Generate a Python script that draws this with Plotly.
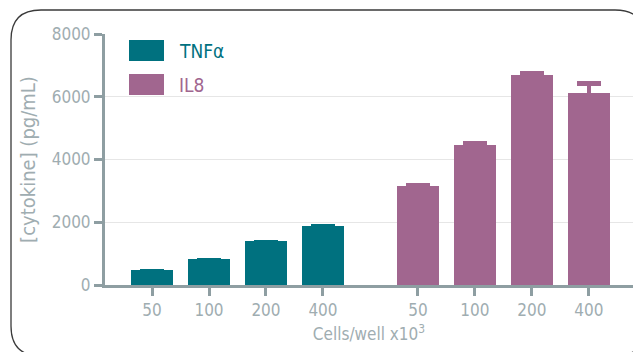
import plotly.graph_objects as go

# Cytokine secretion by cell density
cell_counts = ["50", "100", "200", "400"]
tnfa_values = [470, 830, 1400, 1890]
tnfa_errors = [5, 10, 10, 10]
il8_values = [3165, 4450, 6690, 6130]
il8_errors = [0, 65, 75, 290]
y_ticks = [0, 2000, 4000, 6000, 8000]

TEAL = "#00717f"
PLUM = "#a1668f"
AXIS = "#8e9ea2"
TEXT = "#9fadb1"
FONT = "DejaVu Sans Condensed, Liberation Sans Narrow, sans-serif"

W, H = 633, 352
ML, MR, MT, MB = 105, 0, 34, 67
PW, PH = W - ML - MR, H - MT - MB

# second group sits after a gap wider than one slot
group_gap = 5 / 3
x_tnfa = list(range(len(cell_counts)))
x_il8 = [x_tnfa[-1] + group_gap + i for i in range(len(cell_counts))]


def px(x):
    return (x - ML) / PW


def py(y):
    return (H - MB - y) / PH


fig = go.Figure()
fig.add_bar(
    x=x_tnfa, y=tnfa_values, name="TNFα", marker_color=TEAL, width=0.75,
    marker_line_width=0,
    error_y=dict(type="data", array=tnfa_errors, color=TEAL, thickness=2, width=12),
)
fig.add_bar(
    x=x_il8, y=il8_values, name="IL8", marker_color=PLUM, width=0.75,
    marker_line_width=0,
    error_y=dict(type="data", array=il8_errors, color=PLUM, thickness=4.5, width=12),
)

# rounded frame around the panel
r = 30
x0, x1, y0, y1 = 11, 645, 10, 356
rx, ry = r / PW, r / PH
path = (
    f"M {px(x0)},{py(y0 + r)} "
    f"Q {px(x0)},{py(y0)} {px(x0) + rx},{py(y0)} "
    f"L {px(x1) - rx},{py(y0)} "
    f"Q {px(x1)},{py(y0)} {px(x1)},{py(y0) - ry} "
    f"L {px(x1)},{py(y1) + ry} "
    f"Q {px(x1)},{py(y1)} {px(x1) - rx},{py(y1)} "
    f"L {px(x0) + rx},{py(y1)} "
    f"Q {px(x0)},{py(y1)} {px(x0)},{py(y1) + ry} Z"
)
shapes = [dict(type="path", xref="paper", yref="paper", path=path,
               line=dict(color="#3a3a3a", width=1.3), layer="above")]

# legend swatches with coloured labels
annotations = []
for (name, color, top) in [("TNFα", TEAL, 40), ("IL8", PLUM, 74)]:
    shapes.append(dict(type="rect", xref="paper", yref="paper",
                       x0=px(129), x1=px(164), y0=py(top + 21), y1=py(top),
                       fillcolor=color, line_width=0))
    annotations.append(dict(xref="paper", yref="paper", x=px(177), y=py(top + 10.5),
                            text=name, showarrow=False, xanchor="left", yanchor="middle",
                            font=dict(family=FONT, size=19, color=color)))

fig.update_layout(
    width=W, height=H,
    margin=dict(l=ML, r=MR, t=MT, b=MB),
    paper_bgcolor="white", plot_bgcolor="white",
    showlegend=False, bargap=0,
    font=dict(family=FONT, size=17, color=TEXT),
    shapes=shapes, annotations=annotations,
    xaxis=dict(
        range=[-0.825, 8.44], tickmode="array",
        tickvals=x_tnfa + x_il8, ticktext=cell_counts + cell_counts,
        showline=True, linecolor=AXIS, linewidth=3,
        ticks="outside", ticklen=8, tickwidth=3, tickcolor=AXIS,
        showgrid=False, zeroline=False,
        tickfont=dict(size=17, color=TEXT),
        title=dict(text="Cells/well x10<sup>3</sup>", font=dict(size=17, color=TEXT), standoff=9),
    ),
    yaxis=dict(
        range=[0, 8000], tickvals=y_ticks,
        showline=True, linecolor=AXIS, linewidth=3,
        ticks="outside", ticklen=8, tickwidth=3, tickcolor=AXIS,
        showgrid=True, gridcolor="#e6e6e6", gridwidth=1, zeroline=False,
        tickfont=dict(size=17, color=TEXT),
        title=dict(text="[cytokine] (pg/mL)", font=dict(size=20, color=TEXT), standoff=11),
    ),
)

fig.write_html("out.html")
